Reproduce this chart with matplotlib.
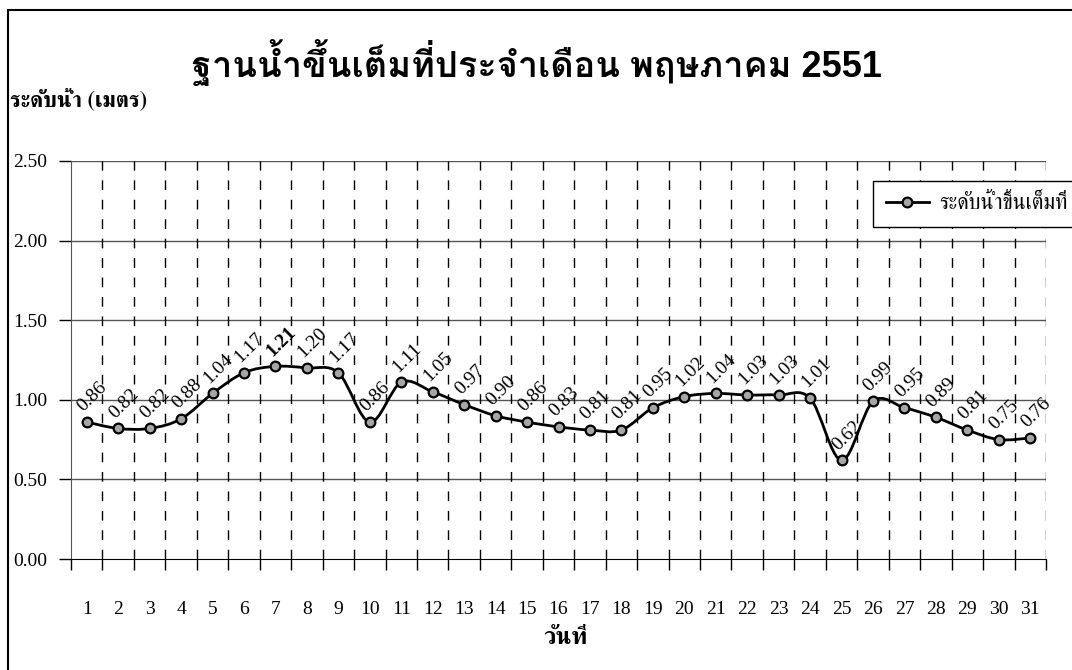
import numpy as np
import matplotlib
matplotlib.use("Agg")
import matplotlib.pyplot as plt
from matplotlib.path import Path
from matplotlib.patches import PathPatch, Rectangle
from matplotlib.lines import Line2D

# ── Data ────────────────────────────────────────────────────
days = list(range(1, 32))
level = [0.86, 0.82, 0.82, 0.88, 1.04, 1.17, 1.21, 1.20, 1.17, 0.86,
         1.11, 1.05, 0.97, 0.90, 0.86, 0.83, 0.81, 0.81, 0.95, 1.02,
         1.04, 1.03, 1.03, 1.01, 0.62, 0.99, 0.95, 0.89, 0.81, 0.75, 0.76]
y_ticks = [0.0, 0.5, 1.0, 1.5, 2.0, 2.5]

title = "ฐานน้ำขึ้นเต็มที่ประจำเดือน พฤษภาคม 2551"
ylabel = "ระดับน้ำ (เมตร)"
xlabel = "วันที่"
series_name = "ระดับน้ำขึ้นเต็มที่"

serif = ["Liberation Serif", "FreeSerif", "DejaVu Sans"]
thai_serif = ["FreeSerif", "DejaVu Sans"]
sans = ["Liberation Sans", "Loma", "DejaVu Sans"]

fig = plt.figure(figsize=(10.72, 6.70), dpi=100)
ax = fig.add_axes([71 / 1072, 1 - 559 / 670, 975 / 1072, 398 / 670])

# ── Smoothed line (Excel-style bezier through the points) ───
x = np.array(days, dtype=float)
y = np.array(level)
xp = np.concatenate([[x[0]], x, [x[-1]]])
yp = np.concatenate([[y[0]], y, [y[-1]]])
verts = [(x[0], y[0])]
codes = [Path.MOVETO]
for i in range(1, len(x)):
    c1 = (xp[i] + (xp[i + 1] - xp[i - 1]) / 6, yp[i] + (yp[i + 1] - yp[i - 1]) / 6)
    c2 = (xp[i + 1] - (xp[i + 2] - xp[i]) / 6, yp[i + 1] - (yp[i + 2] - yp[i]) / 6)
    verts += [c1, c2, (x[i], y[i])]
    codes += [Path.CURVE4] * 3
ax.add_patch(PathPatch(Path(verts, codes), facecolor="none", edgecolor="black",
                       lw=2, zorder=3))
ax.plot(days, level, "o", mfc="#a6a6a6", mec="black", ms=7, mew=1.6, zorder=4)

# data labels, the peak in bold
peak = int(np.argmax(level))
for i, (d, v) in enumerate(zip(days, level)):
    ax.annotate(f"{v:.2f}", (d, v), xytext=(4, 5), textcoords="offset points",
                rotation=45, ha="center", va="bottom", fontsize=14,
                family=serif, fontweight="bold" if i == peak else "normal")

# ── Axes styling ────────────────────────────────────────────
ax.set_xlim(0.5, 31.5)
ax.set_ylim(0, 2.5)
ax.set_yticks(y_ticks)
ax.set_yticklabels([f"{t:.2f}" for t in y_ticks], family=serif, fontsize=14)
ax.tick_params(axis="y", direction="out", length=9, width=1, pad=8)
for t in y_ticks[1:]:
    ax.axhline(t, color="#555555", lw=1, zorder=1)

bounds = np.arange(1.5, 32, 1.0)
ax.set_xticks(np.arange(0.5, 32, 1.0))
ax.set_xticklabels([])
ax.tick_params(axis="x", which="major", direction="out", length=8, width=1)
ax.set_xticks(days, minor=True)
ax.set_xticklabels([str(d) for d in days], minor=True, family=serif, fontsize=14)
ax.tick_params(axis="x", which="minor", length=0, pad=30)
for b in bounds:
    ax.axvline(b, color="black", lw=1, ls=(0, (7, 7)), zorder=1)

for s in ["top", "right"]:
    ax.spines[s].set_visible(False)
ax.spines["left"].set_color("#555555")

# ── Texts ───────────────────────────────────────────────────
fig.text(537 / 1072, 1 - 62 / 670, title, ha="center", va="center",
         fontsize=26, fontweight="bold", family=sans)
fig.text(10 / 1072, 1 - 100 / 670, ylabel, ha="left", va="center",
         fontsize=16, fontweight="bold", family=thai_serif)
fig.text(566 / 1072, 1 - 638 / 670, xlabel, ha="center", va="center",
         fontsize=17, fontweight="bold", family=thai_serif)

handle = Line2D([], [], color="black", lw=2, marker="o", mfc="#a6a6a6",
                mec="black", ms=7, mew=1.6)
fig.legend([handle], [series_name], loc="upper left",
           bbox_to_anchor=(873 / 1072, 1 - 181 / 670), borderaxespad=0,
           fancybox=False, edgecolor="black", framealpha=1, handlelength=2,
           borderpad=0.6, handletextpad=0.5,
           prop=dict(family=thai_serif, size=15.5))

# outer chart border
fig.add_artist(Rectangle((8 / 1072, -0.01), 1.1, 1 - 10 / 670 + 0.01,
                         transform=fig.transFigure, fill=False,
                         edgecolor="black", lw=1.5))

fig.savefig("out.png", dpi=100)
